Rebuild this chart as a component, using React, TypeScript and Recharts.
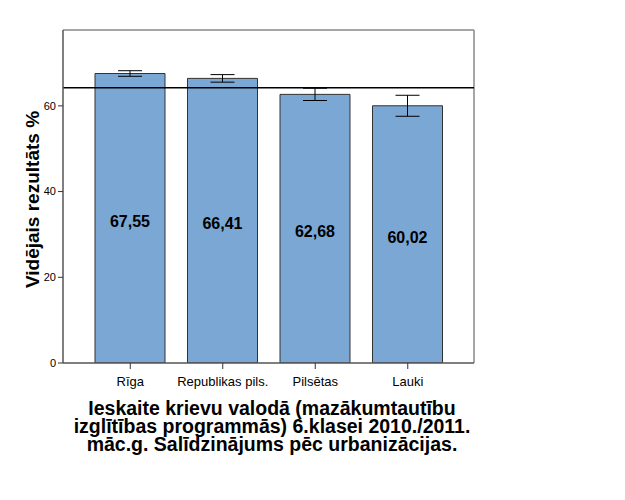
import React from "react";
import {
  BarChart,
  Bar,
  XAxis,
  YAxis,
  ErrorBar,
  ReferenceLine,
  LabelList,
  CartesianGrid,
} from "recharts";

const categories = ["Rīga", "Republikas pils.", "Pilsētas", "Lauki"];
const means = [67.55, 66.41, 62.68, 60.02];
const errors = [0.65, 0.88, 1.43, 2.45];
const overallMean = 64.2;
const yTicks = [0, 20, 40, 60];
const titleLines = [
  "Ieskaite krievu valodā (mazākumtautību",
  "izglītības programmās) 6.klasei 2010./2011.",
  "māc.g. Salīdzinājums pēc urbanizācijas.",
];
const yLabel = "Vidējais rezultāts %";

const data = categories.map((c, i) => ({ name: c, value: means[i], err: errors[i] }));

const FONT = "'Liberation Sans', Arial, sans-serif";

const fmt = (v: any) => Number(v).toFixed(2).replace(".", ",");

const TitleLabel = (props: any) => {
  const vb = props.viewBox || {};
  const cx = vb.x + vb.width / 2 + 3.5;
  const y0 = vb.y + 52;
  return (
    <text textAnchor="middle" fontFamily={FONT} fontWeight="bold" fontSize={19.5} fill="#000">
      {titleLines.map((l, i) => (
        <tspan key={i} x={cx} y={y0 + i * 18}>
          {l}
        </tspan>
      ))}
    </text>
  );
};

const YLab = (props: any) => {
  const vb = props.viewBox || {};
  const x = 39;
  const y = vb.y + vb.height / 2 + 3;
  return (
    <text
      x={x}
      y={y}
      transform={`rotate(-90, ${x}, ${y})`}
      textAnchor="middle"
      fontFamily={FONT}
      fontWeight="bold"
      fontSize={19}
      fill="#000"
    >
      {yLabel}
    </text>
  );
};

export default function App() {
  return (
    <div style={{ position: "absolute", left: 0, top: 0, width: 625, height: 500, background: "#fff" }}>
      <BarChart
        width={625}
        height={500}
        data={data}
        margin={{ top: 30, right: 151, bottom: 107, left: 23 }}
      >
        <CartesianGrid
          stroke="#888"
          strokeWidth={1.5}
          horizontalCoordinatesGenerator={(p: any) => [p.offset.top]}
          verticalCoordinatesGenerator={(p: any) => [p.offset.left + p.offset.width]}
        />
        <XAxis
          dataKey="name"
          padding={{ left: 21, right: 20 }}
          height={30}
          tick={{ fontFamily: FONT, fontSize: 13, fill: "#000" }}
          tickLine={{ stroke: "#333" }}
          tickSize={6}
          tickMargin={8}
          axisLine={{ stroke: "#555", strokeWidth: 1.5 }}
          interval={0}
          label={<TitleLabel />}
        />
        <YAxis
          domain={[0, 77.7]}
          ticks={yTicks}
          width={40}
          tick={{ fontFamily: FONT, fontSize: 11, fill: "#000" }}
          tickLine={{ stroke: "#333" }}
          tickSize={5}
          tickMargin={2}
          axisLine={{ stroke: "#555", strokeWidth: 1.5 }}
          allowDataOverflow
          label={<YLab />}
        />
        <Bar
          dataKey="value"
          fill="#7BA7D5"
          stroke="#333"
          strokeWidth={1}
          barSize={70}
          isAnimationActive={false}
        >
          <ErrorBar dataKey="err" width={12} stroke="#000" strokeWidth={1} direction="y" />
          <LabelList
            dataKey="value"
            position="center"
            formatter={fmt}
            dy={3}
            style={{ fontFamily: FONT, fontWeight: "bold", fontSize: 16, fill: "#000" }}
          />
        </Bar>
        <ReferenceLine y={overallMean} stroke="#000" strokeWidth={1.5} />
      </BarChart>
    </div>
  );
}
